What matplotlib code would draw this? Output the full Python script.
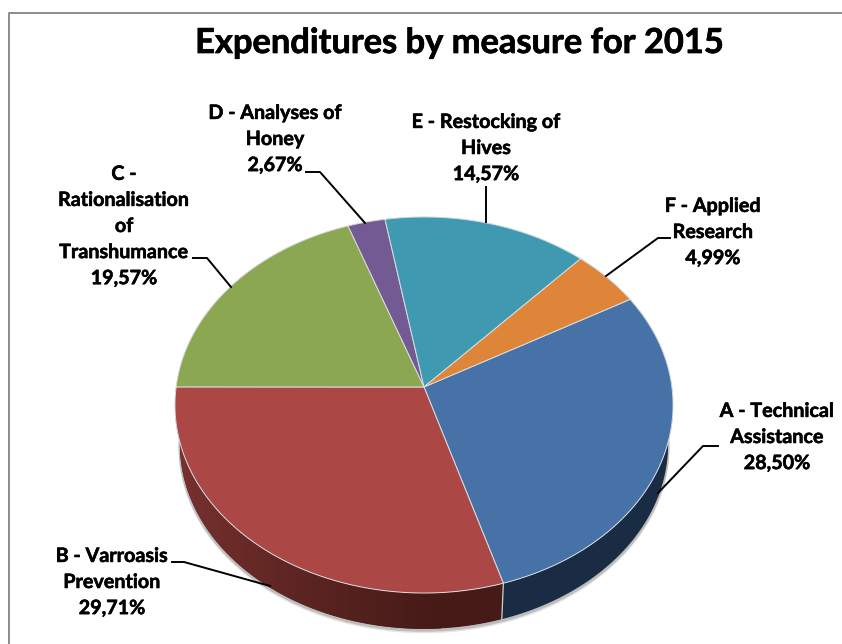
import numpy as np
import matplotlib
matplotlib.use('Agg')
import matplotlib.pyplot as plt
import matplotlib.patheffects as pe
from matplotlib.patches import Polygon

# data
labels = ['A - Technical\nAssistance\n28,50%',
          'B - Varroasis\nPrevention\n29,71%',
          'C -\nRationalisation\nof\nTranshumance\n19,57%',
          'D - Analyses of\nHoney\n2,67%',
          'E - Restocking of\nHives\n14,57%',
          'F - Applied\nResearch\n4,99%']
shares = [28.50, 29.71, 19.57, 2.67, 14.57, 4.99]

top_colors = ['#4672a8', '#ab4744', '#8ca752', '#745a92', '#3f9ab1', '#de8539']
wall_dark = ['#1a2c44', '#451a17', '#4f6030', '#3f3052', '#225664', '#7c4a1e']
wall_light = ['#1a2c44', '#7a3230', '#4f6030', '#3f3052', '#225664', '#7c4a1e']

# label centres and leader lines, in pixels of the picture
label_pos = [(777, 437), (112, 582), (124, 226), (275, 139), (486, 148), (713, 232)]
leaders = [[(718, 446), (703, 446), (658, 493)],
           [(172, 562), (184, 562), (270, 586)],
           [(193, 258), (207, 258), (231, 287)],
           [(306, 172), (320, 172), (365, 223)],
           [(486, 187), (486, 222)],
           [(670, 238), (658, 238), (606, 276)]]

# fake 3D pie geometry
CX, CY = 424, 387
R, S = 247.9, 186.3
K = 0.0957
FIRST_ANGLE = 60.5
WALL_SCALE = 0.98
WALL_DROP = 40


def project(theta):
    # theta in degrees, clockwise from north, on a unit disc seen in perspective
    t = np.radians(theta)
    u, v = np.sin(t), -np.cos(t)
    w = 1 - K * v
    return CX + R * u / w, CY + S * v / w


def project_wall(theta):
    x, y = project(theta)
    return CX + WALL_SCALE * (x - CX), CY + WALL_SCALE * (y - CY) + WALL_DROP


fig = plt.figure(figsize=(8.42, 6.44), dpi=100)
ax = fig.add_axes([0, 0, 1, 1])

edges = FIRST_ANGLE + np.cumsum([0] + shares) / sum(shares) * 360

# soft shadow under the wall
th = np.linspace(90, 270, 200)
for off, col in [(3, '#e6e6e6'), (1.5, '#bdbdbd')]:
    xw, yw = project_wall(th)
    ax.plot(xw, yw + off, color=col, lw=2, zorder=1)

# walls
for i in range(len(shares)):
    th = np.linspace(edges[i], edges[i + 1], 120)
    xt, yt = project(th)
    xb, yb = project_wall(th)
    pts = np.column_stack([np.r_[xt, xb[::-1]], np.r_[yt, yb[::-1]]])
    poly = Polygon(pts, closed=True, facecolor=wall_dark[i], edgecolor='none', zorder=2)
    ax.add_patch(poly)
    if wall_light[i] != wall_dark[i]:
        # left to right shading on the wall
        c0 = np.array(matplotlib.colors.to_rgb(wall_light[i]))
        c1 = np.array(matplotlib.colors.to_rgb(wall_dark[i]))
        g = np.linspace(0, 1, 256)[None, :, None] ** 0.8
        img = c0[None, None, :] * (1 - g) + c1[None, None, :] * g
        im = ax.imshow(img, extent=[xt.min(), 440, 640, 400], aspect='auto', zorder=3)
        # past the gradient range it stays dark through the polygon underneath
        im.set_clip_path(poly)

# seam between A and B on the wall
th = shares[0] / sum(shares) * 360 + FIRST_ANGLE
xa, ya = project(th)
xb, yb = project_wall(th)
ax.plot([xa, xb], [ya, yb], color='#c9ced4', lw=0.9, zorder=4)

# top faces
for i in range(len(shares)):
    th = np.linspace(edges[i], edges[i + 1], 120)
    xt, yt = project(th)
    pts = np.column_stack([np.r_[CX, xt], np.r_[CY, yt]])
    ax.add_patch(Polygon(pts, closed=True, facecolor=top_colors[i],
                         edgecolor='#d9dde2', linewidth=0.7, zorder=5))

# leader lines and labels
for line in leaders:
    xs, ys = zip(*line)
    ax.plot(xs, ys, color='black', lw=1.4, zorder=6, solid_joinstyle='round')

for txt, (x, y) in zip(labels, label_pos):
    t = ax.text(x, y, txt, ha='center', va='center', fontsize=14.2, fontweight='bold',
                family='Lato', linespacing=1.38, color='black', zorder=7)
    t.set_path_effects([pe.withStroke(linewidth=0.4, foreground='black')])

t = ax.text(460, 43, 'Expenditures by measure for 2015', ha='center', va='center',
            fontsize=24.8, fontweight='bold', family='Lato', color='black', zorder=7)
t.set_path_effects([pe.withStroke(linewidth=0.5, foreground='black')])

# chart frame
ax.plot([8.5, 8.5, 842], [644, 12.5, 12.5], color='#8c8c8c', lw=1.4, zorder=8)

ax.set_xlim(0, 842)
ax.set_ylim(644, 0)
ax.axis('off')

plt.savefig('out.png', dpi=100)
